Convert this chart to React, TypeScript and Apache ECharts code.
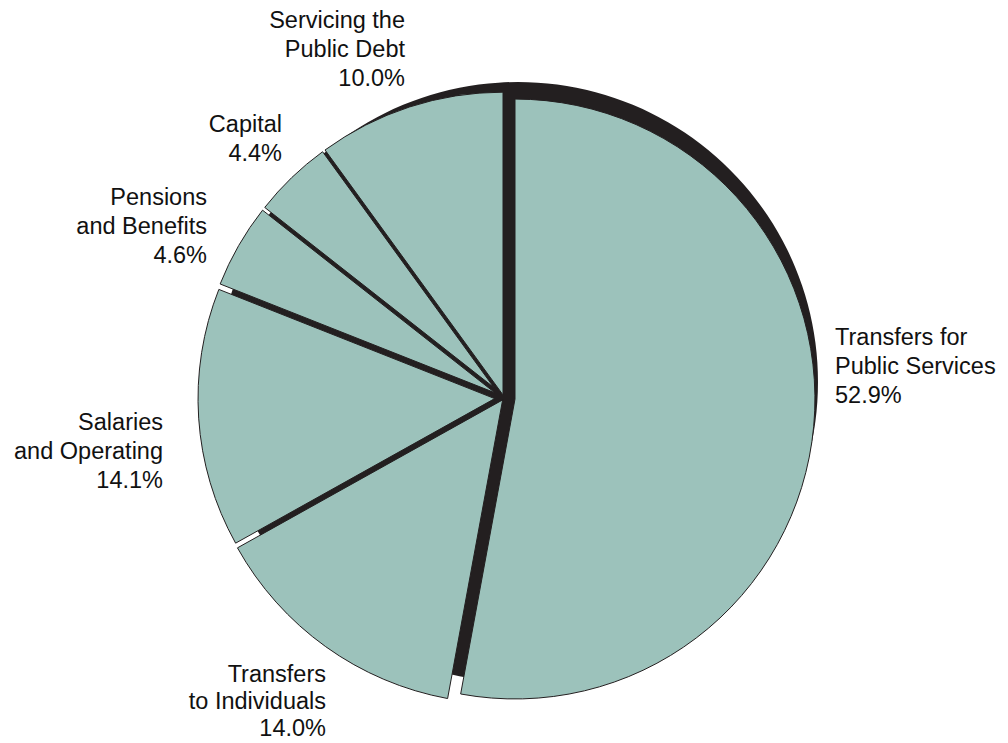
import React, { useEffect, useRef } from "react";
import * as echarts from "echarts";

// ---- data ----
const categories: string[] = [
  "Transfers for\nPublic Services",
  "Transfers\nto Individuals",
  "Salaries\nand Operating",
  "Pensions\nand Benefits",
  "Capital",
  "Servicing the\nPublic Debt",
];
const shares: number[] = [52.9, 14.0, 14.1, 4.6, 4.4, 10.0];

// ---- styling / layout (not data) ----
const TEAL = "#9cc2bb";
const DARK = "#231f20";
const BASE_CENTER = [504, 398];
const BASE_R = 306;
const SHADOW_CENTER = [518, 382];
const SHADOW_R = 300;
// perpendicular inset of each slice from its boundary lines (px)
const insets = [11, 1, 4, 1.5, 2, 1];
const radiusExtra = [5, 0, 0, 0, 0, 0];
// label anchors: [x, middleY, align, lineHeight]
const labelPos: [number, number, string, number][] = [
  [835, 366, "left", 29],
  [326, 701, "right", 27],
  [163, 451, "right", 29],
  [207, 226, "right", 29],
  [282, 138, "right", 29],
  [405, 49, "right", 29],
];

export default function App() {
  const ref = useRef<HTMLDivElement>(null);
  useEffect(() => {
    if (!ref.current) return;
    const chart = echarts.init(ref.current, undefined, { renderer: "svg" });
    const total = shares.reduce((a, b) => a + b, 0);
    let acc = 0;
    const sliceSeries: any[] = shares.map((v, i) => {
      const a0 = (acc / total) * 2 * Math.PI;
      acc += v;
      const a1 = (acc / total) * 2 * Math.PI;
      const mid = (a0 + a1) / 2;
      const half = (a1 - a0) / 2;
      const d = insets[i] / Math.sin(half);
      const cx = BASE_CENTER[0] + d * Math.sin(mid);
      const cy = BASE_CENTER[1] - d * Math.cos(mid);
      const r = BASE_R - d + radiusExtra[i];
      const [lx, ly, al, lh] = labelPos[i];
      return {
        type: "pie",
        center: [cx, cy],
        radius: r,
        startAngle: 90,
        clockwise: true,
        avoidLabelOverlap: false,
        silent: true,
        z: 3,
        data: categories.map((name, j) => ({
          name,
          value: shares[j],
          itemStyle:
            j === i
              ? { color: TEAL, borderColor: DARK, borderWidth: 1 }
              : { color: "rgba(0,0,0,0)", borderWidth: 0 },
          label: { show: j === i },
        })),
        label: {
          show: true,
          position: "outside",
          formatter: (p: any) => `${p.name}\n${Number(p.value).toFixed(1)}%`,
          fontFamily: "Liberation Sans, Arial, sans-serif",
          fontSize: 23.5,
          lineHeight: lh,
          color: "#111111",
        },
        labelLine: { show: false },
        labelLayout: () => ({ x: lx, y: ly, align: al, verticalAlign: "middle" }),
        emphasis: { disabled: true },
      };
    });

    chart.setOption({
      animation: false,
      backgroundColor: "#ffffff",
      series: [
        {
          type: "pie",
          center: SHADOW_CENTER,
          radius: SHADOW_R,
          silent: true,
          z: 1,
          label: { show: false },
          labelLine: { show: false },
          itemStyle: { color: DARK, borderWidth: 0 },
          data: [{ name: "shadow", value: total }],
          emphasis: { disabled: true },
        },
        ...sliceSeries,
      ],
    });
    return () => chart.dispose();
  }, []);
  return (
    <div
      ref={ref}
      style={{ position: "fixed", left: 0, top: 0, width: 1008, height: 743 }}
    />
  );
}
